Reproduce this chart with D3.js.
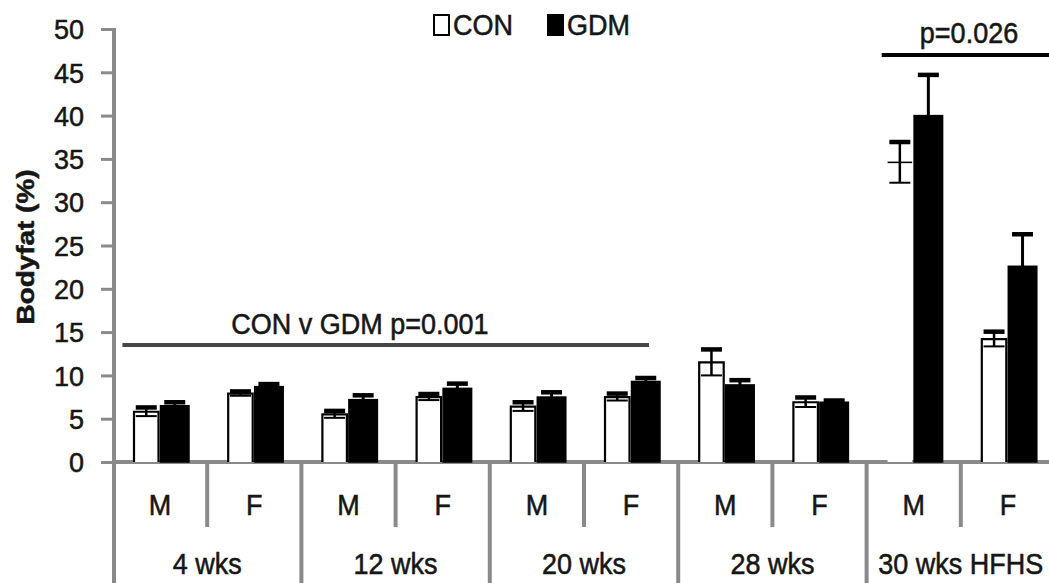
<!DOCTYPE html>
<html>
<head>
<meta charset="utf-8">
<script src="https://cdn.jsdelivr.net/npm/d3@7"></script>
<style>
  html, body { margin: 0; padding: 0; background: #fff; }
  svg { display: block; }
  text { font-family: "Liberation Sans", Arial, sans-serif; fill: #161616; stroke: #161616; stroke-width: 0.5px; }
</style>
</head>
<body>
<svg id="chart" width="1049" height="583"></svg>
<script>
// Body fat (%) by age, sex and maternal group
const groups = ["4 wks", "12 wks", "20 wks", "28 wks", "30 wks HFHS"];
const sexes = ["M", "F"];
const series = ["CON", "GDM"];
const yTicks = [0, 5, 10, 15, 20, 25, 30, 35, 40, 45, 50];

// one value per group × sex, in order 4wk M, 4wk F, 12wk M, ...
const conMean = [5.8, 7.9, 5.5, 7.5, 6.4, 7.5, 11.5, 6.9, 34.6, 14.2];
const conSE   = [0.5, 0.25, 0.4, 0.35, 0.5, 0.4, 1.5, 0.55, 2.35, 0.85];
const gdmMean = [6.5, 8.7, 7.2, 8.5, 7.5, 9.3, 8.9, 6.9, 40.0, 22.6];
const gdmSE   = [0.4, 0.3, 0.5, 0.55, 0.55, 0.4, 0.55, 0.2, 4.7, 3.7];
// whether the CON bar outline shows its side edges
const conBarSides = [true, true, true, true, true, true, true, true, false, true];

const annotLabels = ["CON v GDM p=0.001", "p=0.026"];

const svg = d3.select("#chart");
const W = 1049, H = 583;
const stretch = 1.12; // label glyphs are drawn slightly tall

const cells = [];
groups.forEach((g, gi) => sexes.forEach((s, si) => {
  const i = gi * 2 + si;
  cells.push({ id: g + "|" + s, group: g, sex: s, i,
    con: conMean[i], conSE: conSE[i], gdm: gdmMean[i], gdmSE: gdmSE[i], sides: conBarSides[i] });
}));

const axisX = 114, baseY = 462, topY = 29, bandW = 94.2;
const x = d3.scaleBand().domain(cells.map(d => d.id)).range([axisX - 1, axisX - 1 + bandW * cells.length]).padding(0);
const x1 = d3.scaleBand().domain(series).range([19, 76]).padding(0);
const y = d3.scaleLinear().domain([0, 50]).range([baseY, topY]);

const axisColor = "#8a8a8a";
const place = (tx, ty) => `translate(${tx},${ty}) scale(1,${stretch})`;

// y axis line and ticks
svg.append("line").attr("x1", axisX).attr("x2", axisX).attr("y1", topY - 1).attr("y2", H)
  .attr("stroke", axisColor).attr("stroke-width", 4);
const yAxis = d3.axisLeft(y).tickValues(yTicks).tickSize(12).tickFormat(d3.format("d"));
const gy = svg.append("g").attr("transform", `translate(${axisX - 1},0)`).call(yAxis);
gy.select(".domain").remove();
gy.selectAll(".tick line").attr("stroke", axisColor).attr("stroke-width", 3);
gy.selectAll(".tick text").attr("x", -29).attr("dy", "0.36em")
  .attr("font-size", 27).attr("fill", "#161616")
  .style("font-family", "'Liberation Sans', Arial, sans-serif");

// y axis title
svg.append("text")
  .attr("transform", "translate(34,247) rotate(-90)")
  .attr("text-anchor", "middle")
  .attr("font-size", 24).attr("font-weight", "bold")
  .attr("textLength", 155).attr("lengthAdjust", "spacingAndGlyphs")
  .text("Bodyfat (%)");

// x axis baseline
svg.append("line").attr("x1", axisX).attr("x2", W).attr("y1", baseY).attr("y2", baseY)
  .attr("stroke", axisColor).attr("stroke-width", 4);

// category separators: long between age groups, short between sexes
const bounds = d3.range(1, cells.length + 1);
svg.selectAll("line.sep").data(bounds).join("line")
  .attr("class", "sep")
  .attr("x1", k => x.range()[0] + k * x.step()).attr("x2", k => x.range()[0] + k * x.step())
  .attr("y1", baseY).attr("y2", k => k % 2 === 0 ? H : 527)
  .attr("stroke", axisColor).attr("stroke-width", 4);

// sex labels
svg.selectAll("text.sex").data(cells).join("text")
  .attr("class", "sex")
  .attr("transform", d => place(x(d.id) + x.bandwidth() / 2, 515))
  .attr("text-anchor", "middle").attr("font-size", 27)
  .text(d => d.sex);

// age-group labels
svg.selectAll("text.grp").data(groups).join("text")
  .attr("class", "grp")
  .attr("transform", g => place(x(g + "|M") + x.bandwidth(), 574))
  .attr("text-anchor", "middle").attr("font-size", 27)
  .text(g => g);

// CON bars (white with black outline)
const conW = 24.5;
const conX = d => x(d.id) + x1("CON") + (x1.bandwidth() - conW) / 2;
svg.selectAll("rect.con").data(cells).join("rect")
  .attr("class", "con")
  .attr("x", conX).attr("width", conW)
  .attr("y", d => y(d.con)).attr("height", d => y(0) - y(d.con))
  .attr("fill", "#fff").attr("stroke", "none");
svg.selectAll("path.conEdge").data(cells).join("path")
  .attr("class", "conEdge")
  .attr("d", d => {
    const x0 = conX(d), xr = x0 + conW, yt = y(d.con), yb = y(0);
    return d.sides ? `M${x0},${yb}V${yt}H${xr}V${yb}` : `M${x0},${yt}H${xr}`;
  })
  .attr("fill", "none").attr("stroke", "#000").attr("stroke-width", d => d.sides ? 2.2 : 1.6);

// GDM bars (solid black)
svg.selectAll("rect.gdm").data(cells).join("rect")
  .attr("class", "gdm")
  .attr("x", d => x(d.id) + x1("GDM")).attr("width", x1.bandwidth())
  .attr("y", d => y(d.gdm)).attr("height", d => y(0) - y(d.gdm))
  .attr("fill", "#000").attr("stroke", "#000").attr("stroke-width", 1.5);

// error bars: CON ± SE, GDM + SE
const capW = 21;
const eb = svg.append("g").attr("stroke", "#000");
cells.forEach(d => {
  const cx = conX(d) + conW / 2;
  eb.append("line").attr("x1", cx).attr("x2", cx).attr("y1", y(d.con - d.conSE)).attr("y2", y(d.con + d.conSE)).attr("stroke-width", 2.5);
  eb.append("line").attr("x1", cx - capW / 2).attr("x2", cx + capW / 2).attr("y1", y(d.con + d.conSE)).attr("y2", y(d.con + d.conSE)).attr("stroke-width", 4.5);
  eb.append("line").attr("x1", cx - capW / 2).attr("x2", cx + capW / 2).attr("y1", y(d.con - d.conSE)).attr("y2", y(d.con - d.conSE)).attr("stroke-width", 2);
  const gx = x(d.id) + x1("GDM") + x1.bandwidth() / 2;
  eb.append("line").attr("x1", gx).attr("x2", gx).attr("y1", y(d.gdm)).attr("y2", y(d.gdm + d.gdmSE)).attr("stroke-width", 3);
  eb.append("line").attr("x1", gx - capW / 2).attr("x2", gx + capW / 2).attr("y1", y(d.gdm + d.gdmSE)).attr("y2", y(d.gdm + d.gdmSE)).attr("stroke-width", 4.5);
});

// significance annotations
const pos = k => x.range()[0] + k * x.step();
svg.append("line").attr("x1", pos(0.1)).attr("x2", pos(5.69)).attr("y1", 345).attr("y2", 345)
  .attr("stroke", "#474747").attr("stroke-width", 4);
svg.append("text").attr("transform", place(360, 334)).attr("text-anchor", "middle")
  .attr("font-size", 27).text(annotLabels[0]);
svg.append("line").attr("x1", pos(8.16)).attr("x2", W).attr("y1", 55).attr("y2", 55)
  .attr("stroke", "#000").attr("stroke-width", 4);
svg.append("text").attr("transform", place(969, 43)).attr("text-anchor", "middle")
  .attr("font-size", 27).text(annotLabels[1]);

// legend
const legend = svg.append("g");
const legX = [433, 547];
series.forEach((s, si) => {
  legend.append("rect").attr("x", legX[si] + 1).attr("y", 15).attr("width", 15).attr("height", 20)
    .attr("fill", si === 0 ? "#fff" : "#000").attr("stroke", "#000").attr("stroke-width", 2);
  legend.append("text").attr("transform", place(legX[si] + 20, 35)).attr("font-size", 27).text(s);
});
</script>
</body>
</html>
